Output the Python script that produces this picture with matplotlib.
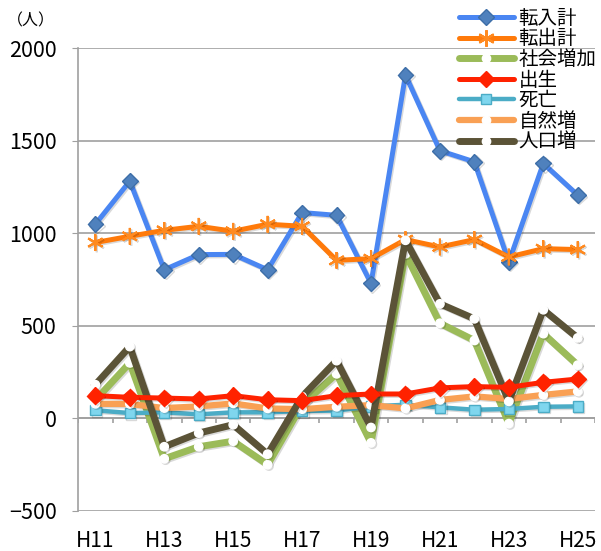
import numpy as np
import matplotlib.pyplot as plt
import matplotlib.patheffects as pe

plt.rcParams['font.family'] = ['Noto Sans CJK JP', 'DejaVu Sans']

years = ['H11', 'H12', 'H13', 'H14', 'H15', 'H16', 'H17', 'H18',
         'H19', 'H20', 'H21', 'H22', 'H23', 'H24', 'H25']

tennyu = [1049, 1282, 803, 885, 886, 803, 1112, 1097, 729, 1855, 1446, 1386, 845, 1377, 1206]
tenshutsu = [950, 984, 1016, 1038, 1011, 1049, 1038, 854, 863, 966, 926, 966, 872, 917, 912]
shakai = [99, 300, -218, -153, -123, -250, 74, 241, -132, 889, 514, 421, -28, 458, 288]
shussei = [123, 114, 110, 105, 123, 101, 96, 123, 132, 132, 165, 172, 168, 195, 213]
shibou = [44, 29, 33, 22, 33, 33, 40, 42, 65, 74, 60, 47, 51, 63, 65]
shizen = [79, 78, 56, 65, 81, 54, 50, 63, 72, 54, 100, 119, 105, 127, 146]
jinko = [182, 388, -153, -79, -34, -193, 118, 312, -49, 962, 619, 538, 92, 587, 435]

labels = ['転入計', '転出計', '社会増加', '出生', '死亡', '自然増', '人口増']

x = np.arange(len(years))

fig = plt.figure(figsize=(6.01, 5.51), dpi=100)
ax = fig.add_axes([0.130, 0.0726, 0.860, 0.840])

shadow = [pe.SimpleLineShadow(offset=(1.0, -1.0), alpha=0.15), pe.Normal()]

ax.plot(x, tennyu, color='#4a86f2', lw=3.6, marker='D', ms=8,
        mfc='#4f81bd', mec='#3d6ea8', mew=1, label=labels[0], zorder=3, path_effects=shadow)
ax.plot(x, tenshutsu, color='#ff7a0a', lw=3.6, marker=(6, 2, 0), ms=12,
        mec='#ff8a20', mew=1.5, label=labels[1], zorder=3, path_effects=shadow)
ax.plot(x, shakai, color='#9bbb59', lw=5, marker='o', ms=6,
        mfc='white', mec='white', label=labels[2], zorder=4, path_effects=shadow)
ax.plot(x, shussei, color='#ff2200', lw=3.6, marker='D', ms=8.5,
        mfc='#ff2200', mec='#ff2200', label=labels[3], zorder=6, path_effects=shadow)
ax.plot(x, shibou, color='#4bacc6', lw=3.2, marker='s', ms=7.5,
        mfc='#7fd6ee', mec='#4bacc6', mew=1, label=labels[4], zorder=4, path_effects=shadow)
ax.plot(x, shizen, color='#f9a054', lw=4.5, marker='o', ms=6,
        mfc='white', mec='white', label=labels[5], zorder=5, path_effects=shadow)
ax.plot(x, jinko, color='#5b5337', lw=5, marker='o', ms=6,
        mfc='white', mec='white', label=labels[6], zorder=5, path_effects=shadow)

ax.set_xlim(-0.5, len(years) - 0.5)
ax.set_ylim(-500, 2000)
ax.set_yticks([-500, 0, 500, 1000, 1500, 2000])
ax.set_yticklabels(['−500', '0', '500', '1000', '1500', '2000'])
ax.set_xticks(x[::2])
ax.set_xticklabels(years[::2])
ax.tick_params(axis='x', length=0, labelsize=15, pad=14)
ax.tick_params(axis='y', length=4.5, color='#a0a0a0', labelsize=15.5, pad=11)
ax.grid(axis='y', color='#a0a0a0', lw=1.2)
for s in ['top', 'right', 'bottom']:
    ax.spines[s].set_visible(False)
ax.spines['left'].set_color('#a0a0a0')
ax.spines['left'].set_linewidth(1.2)

# zero line with category tick marks
ax.axhline(0, color='#a0a0a0', lw=1.2, zorder=1)
ax.vlines(np.arange(len(years) + 1) - 0.5, -27, 0, color='#a0a0a0', lw=1.2, zorder=1)

fig.text(0.012, 0.962, '（人）', fontsize=11.5, va='center')

leg = ax.legend(loc='upper right', bbox_to_anchor=(1.018, 1.104), frameon=False,
                fontsize=14, labelspacing=-0.02, handlelength=2.8,
                handletextpad=0.25, borderaxespad=0)
for line in leg.get_lines():
    line.set_path_effects([])
    line.set_solid_capstyle('round')

fig.savefig('out.png', dpi=100)
